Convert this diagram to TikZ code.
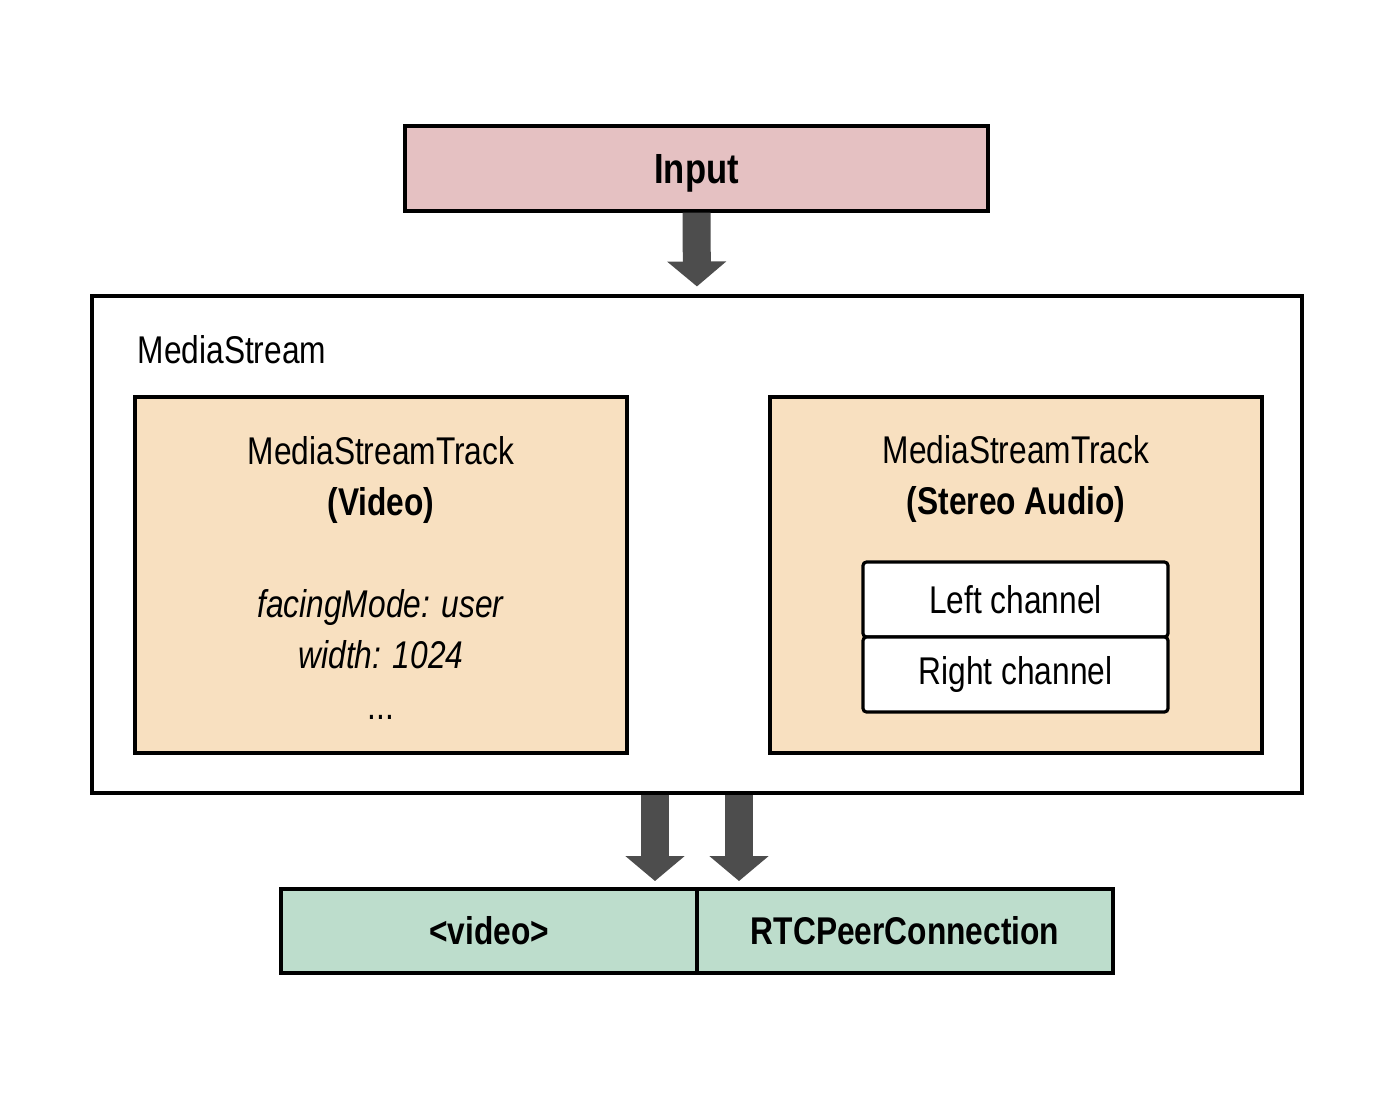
\documentclass[tikz,border=0pt]{standalone}
\usepackage{fontspec}
\setmainfont{Liberation Sans}[FakeStretch=0.82]
\usepackage{tikz}
\usetikzlibrary{positioning, arrows.meta}
\definecolor{input_pink}{RGB}{229,193,194}
\definecolor{track_peach}{RGB}{248,224,192}
\definecolor{output_green}{RGB}{189,221,204}
\definecolor{arrow_grey}{RGB}{77,77,77}

\begin{document}
\begin{tikzpicture}[>=Stealth, font=\fontsize{11}{14.5}\selectfont]

    \tikzset{
      plain_box/.style={draw, rectangle, line width=0.9pt, align=center, inner sep=0pt},
      track_box/.style={plain_box, fill=track_peach, minimum width=4.92cm, minimum height=3.56cm},
      channel_box/.style={plain_box, fill=white, rounded corners=1pt, outer sep=0pt, minimum width=3.05cm, minimum height=0.75cm},
      output_box/.style={plain_box, fill=output_green, outer sep=0pt, minimum width=4.16cm, minimum height=0.84cm, font=\fontsize{11}{14.5}\selectfont\bfseries},
      big_arrow/.style={draw=arrow_grey, line width=0.28cm, -{Triangle[width=0.58cm, length=0.25cm]}, shorten >=0.08cm}
    }

    \useasboundingbox (0,0) rectangle (14,-10.96);

    % --- Begin Input Node ---
		\node [plain_box, fill=input_pink, minimum width=5.83cm, minimum height=0.85cm, text depth=0pt, font=\fontsize{12}{14.5}\selectfont\bfseries] (Input) at (6.965,-1.685) {Input};
		% --- End Input Node ---

    % --- Begin MediaStream Node ---
		\node [plain_box, minimum width=12.10cm, minimum height=4.97cm] (MediaStream) at (6.97,-5.445) {};
		\node [anchor=west, inner sep=0pt] (stream_label) at (1.37,-3.50) {MediaStream};

    % Video track with its constraints.
		\node [track_box] (VideoTrack) at (3.81,-5.75) {
			\rule{0pt}{0.34cm}MediaStreamTrack \\
			\textbf{(Video)} \\[0.51cm]
			\textit{facingMode: user} \\
			\textit{width: 1024} \\
			...
		};

    % Audio track with its two channels.
		\node [track_box] (AudioTrack) at (10.16,-5.75) {};
		\node [align=center, inner sep=0pt] (audio_title) at ([yshift=-0.84cm]AudioTrack.north) {
			MediaStreamTrack \\
			\textbf{(Stereo Audio)}
		};
		\node [channel_box] (LeftChannel) at (10.155,-5.995) {Left channel};
		\node [channel_box, below=0.0cm of LeftChannel] (RightChannel) {Right channel};
		% --- End MediaStream Node ---

    % --- Begin Output Nodes ---
		\node [output_box] (Player) at (4.89,-9.31) {<video>};
		\node [output_box, right=0.0cm of Player] (PeerConnection) {RTCPeerConnection};
		% --- End Output Nodes ---

    % Connect the nodes.
    \draw[big_arrow] (Input.south) -- (MediaStream.north);
    \draw[big_arrow] ([xshift=-0.42cm]MediaStream.south) -- ([xshift=-0.42cm]MediaStream.south |- Player.north);
    \draw[big_arrow] ([xshift=0.42cm]MediaStream.south) -- ([xshift=0.42cm]MediaStream.south |- PeerConnection.north);

  \end{tikzpicture}
\end{document}
